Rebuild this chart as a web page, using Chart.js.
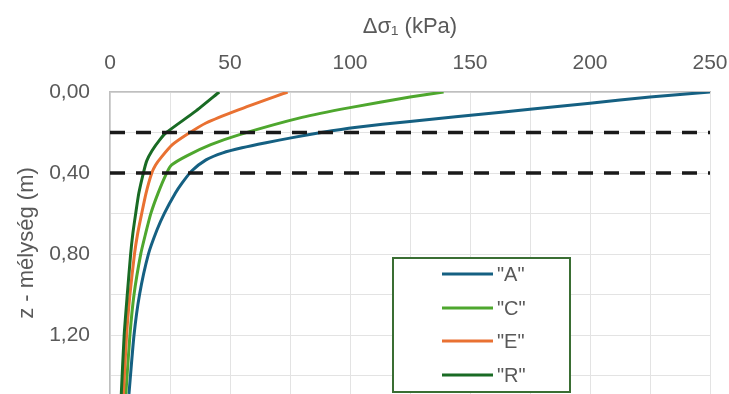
<!DOCTYPE html>
<html><head><meta charset="utf-8">
<script src="https://cdn.jsdelivr.net/npm/chart.js@4/dist/chart.umd.min.js"></script>
<style>html,body{margin:0;padding:0;background:#fff;overflow:hidden}#wrap{width:729px;height:394px}</style>
</head><body><div id="wrap"><canvas id="c" width="729" height="394"></canvas></div>
<script>
const seriesNames = ['"A"', '"C"', '"E"', '"R"'];
const depthA  = [0, 0.025, 0.055, 0.085, 0.1, 0.145, 0.175, 0.2, 0.225, 0.25, 0.275, 0.3, 0.335, 0.39, 0.45, 0.5, 0.6, 0.68, 0.8, 1.0, 1.2, 1.49];
const stressA = [250, 225, 200, 175, 163, 125, 102, 88, 76, 65, 55, 47, 40, 34, 30, 27.2, 22.6, 19.6, 16, 12.3, 10, 7.9];
const depthC  = [0, 0.025, 0.077, 0.125, 0.21, 0.26, 0.315, 0.36, 0.4, 0.5, 0.6, 0.7, 0.8, 1.0, 1.2, 1.49];
const stressC = [139, 125, 100, 80, 54, 42, 32, 25.7, 23.6, 20, 17, 14.8, 12.8, 10, 8.3, 6.6];
const depthE  = [0, 0.088, 0.153, 0.21, 0.26, 0.32, 0.36, 0.4, 0.5, 0.6, 0.7, 0.8, 1.0, 1.2, 1.49];
const stressE = [74, 53.5, 40, 32, 26, 21.5, 19, 17.4, 15, 13.2, 11.5, 10.2, 8.3, 6.9, 5.6];
const depthR  = [0, 0.097, 0.2, 0.235, 0.29, 0.34, 0.4, 0.5, 0.6, 0.7, 0.8, 1.0, 1.2, 1.49];
const stressR = [45.5, 35.4, 23.5, 20.8, 17.5, 15.3, 13.9, 12, 10.7, 9.5, 8.6, 7.2, 5.9, 4.7];
const layerDepths = [0.2, 0.4];
const xRange = [0, 250];
const yRange = [0, 1.49];
const xTickLabels = ['0', '50', '100', '150', '200', '250'];
const yTickLabels = ['0,00', '0,40', '0,80', '1,20'];
const xTitle = 'Δσ₁ (kPa)';
const yTitle = 'z - mélység (m)';

const colors = { A: '#156082', C: '#4EA72E', E: '#E97132', R: '#196B24' };
const pts = (d, s) => d.map((z, i) => ({ x: s[i], y: z }));
const FONT = "'Liberation Sans', Arial, sans-serif";
const TXT = '#595959';

const curve = (label, d, s, col) => ({
  label, data: pts(d, s), borderColor: col, backgroundColor: col,
  borderWidth: 3, pointRadius: 0, tension: 0.2, fill: false, showLine: true
});
const dashed = layerDepths.map(z => ({
  label: 'layer ' + z, data: [{ x: xRange[0], y: z }, { x: xRange[1], y: z }],
  borderColor: '#1a1a1a', borderWidth: 3.5, borderDash: [15, 11], pointRadius: 0,
  showLine: true, fill: false
}));

const datasets = [
  ...dashed,
  curve(seriesNames[3], depthR, stressR, colors.R),
  curve(seriesNames[2], depthE, stressE, colors.E),
  curve(seriesNames[1], depthC, stressC, colors.C),
  curve(seriesNames[0], depthA, stressA, colors.A)
];

const legendPlugin = {
  id: 'boxLegend',
  afterDraw(chart) {
    const ctx = chart.ctx;
    ctx.save();
    const bx = 393, by = 258, bw = 177, bh = 134;
    ctx.fillStyle = '#fff';
    ctx.fillRect(bx, by, bw, bh);
    ctx.strokeStyle = '#3A6E33';
    ctx.lineWidth = 2;
    ctx.strokeRect(bx, by, bw, bh);
    const rows = [274, 308, 341, 375];
    seriesNames.forEach((name, i) => {
      const ds = chart.data.datasets.find(d => d.label === name);
      ctx.strokeStyle = ds.borderColor;
      ctx.lineWidth = 3;
      ctx.beginPath();
      ctx.moveTo(442, rows[i]);
      ctx.lineTo(493, rows[i]);
      ctx.stroke();
      ctx.fillStyle = TXT;
      ctx.font = '20px ' + FONT;
      ctx.textBaseline = 'middle';
      ctx.textAlign = 'left';
      ctx.fillText(name, 497, rows[i] + 1);
    });
    ctx.restore();
  }
};

new Chart(document.getElementById('c'), {
  type: 'scatter',
  data: { datasets },
  options: {
    responsive: false, animation: false, devicePixelRatio: 1,
    layout: { padding: { left: 0, right: 19, top: 0, bottom: 0 } },
    plugins: { legend: { display: false }, tooltip: { enabled: false } },
    scales: {
      x: {
        type: 'linear', position: 'top', min: xRange[0], max: xRange[1],
        afterFit: s => { s.height = 92; s.paddingLeft = 0; s.paddingRight = 0; },
        grid: { color: '#e3e3e3', lineWidth: 1, drawTicks: false },
        border: { color: '#bfbfbf', width: 1.5 },
        ticks: {
          stepSize: 25, padding: 16, color: TXT, font: { family: FONT, size: 21 },
          maxRotation: 0, autoSkip: false,
          callback: v => xTickLabels.includes(String(v)) ? String(v) : ''
        },
        title: { display: true, text: xTitle, color: TXT, font: { family: FONT, size: 22 }, padding: { top: 14, bottom: 0 } }
      },
      y: {
        type: 'linear', position: 'left', reverse: true, min: yRange[0], max: yRange[1],
        afterFit: s => { s.width = 110; s.paddingTop = 0; s.paddingBottom = 0; },
        grid: { color: '#e3e3e3', lineWidth: 1, drawTicks: false },
        border: { color: '#bfbfbf', width: 1.5 },
        ticks: {
          stepSize: 0.2, includeBounds: false, padding: 20, color: TXT, font: { family: FONT, size: 21 },
          autoSkip: false,
          callback: v => { const s = (Math.round(v * 100) / 100).toFixed(2).replace('.', ','); return yTickLabels.includes(s) ? s : ''; }
        },
        title: { display: true, text: yTitle, color: TXT, font: { family: FONT, size: 22 }, padding: { top: 14, bottom: 0 } }
      }
    }
  },
  plugins: [legendPlugin]
});
</script></body></html>
